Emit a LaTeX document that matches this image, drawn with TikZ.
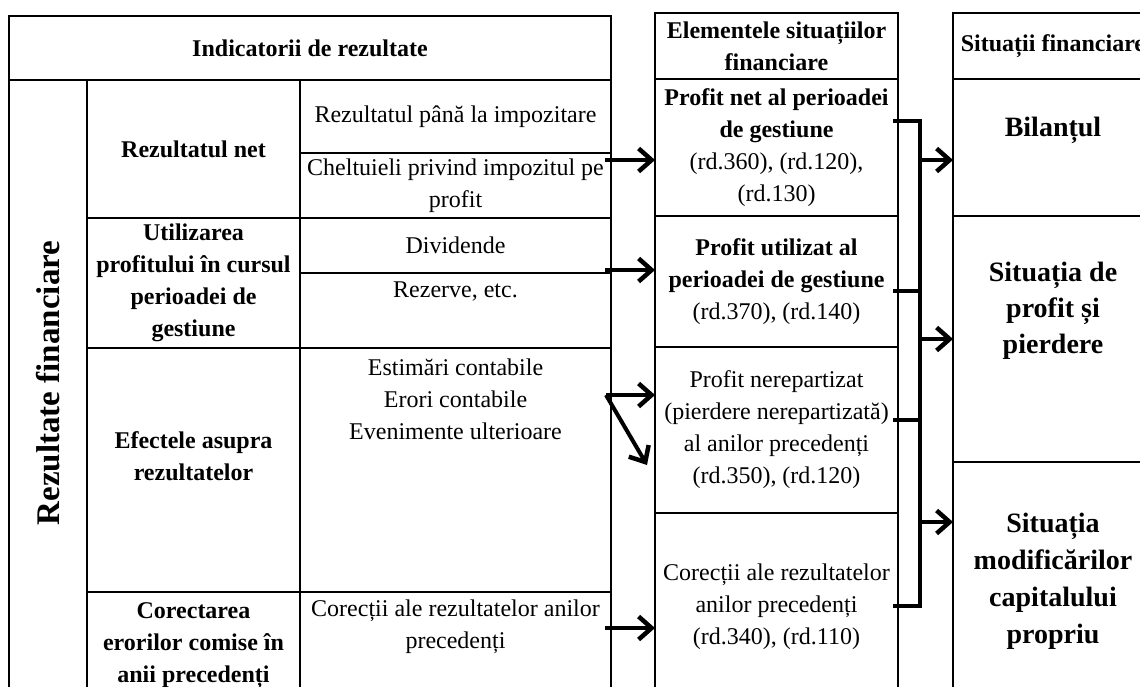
\documentclass[tikz,border=0pt]{standalone}
\usepackage{fontspec}
\setmainfont{Liberation Serif}
\usetikzlibrary{arrows.meta,positioning}
\tikzset{
    %Define style for table cells
    cell/.style={
           draw=black, line width=1.2pt,
           anchor=north west,
           inner sep=0pt, outer sep=0pt,
           align=center,
           font=\fontsize{24}{32}\selectfont},
    bcell/.style={cell, font=\fontsize{24}{32}\selectfont\bfseries},
    gcell/.style={cell, font=\fontsize{28}{37}\selectfont\bfseries},
    %Define style for free texts
    txt/.style={inner sep=0pt, align=center, font=\fontsize{24}{32}\selectfont},
    btxt/.style={txt, font=\fontsize{24}{32}\selectfont\bfseries},
    gtxt/.style={txt, font=\fontsize{28}{36}\selectfont\bfseries},
    % Define arrow style
    pil/.style={line width=4pt, -{Straight Barb[length=13pt,width=23pt,line width=4.5pt]}},
    brace/.style={line width=4pt, line join=miter}
}
\begin{document}
\begin{tikzpicture}[x=1pt,y=-1pt]
\useasboundingbox (0,0) rectangle (1140,686);
\clip (0,0) rectangle (1140,686);

 %left table
\node[bcell, minimum width=602pt, minimum height=64pt] (hdrL) at (9,16) {Indicatorii de rezultate};
\node[cell, minimum width=78pt, minimum height=620pt] (rf) at (9,80) {};
\node[btxt, rotate=90, font=\fontsize{33}{36}\selectfont\bfseries] (rfT) at ([yshift=7pt]rf.center) {Rezultate financiare};
\node[bcell, minimum width=213pt, minimum height=138pt] (rnet) at (87,80) {Rezultatul net};
\node[cell, minimum width=311pt, minimum height=73pt] (rpi) at (300,80) {Rezultatul până la impozitare};
\node[cell, minimum width=311pt, minimum height=65pt] (chelt) at (300,153) {Cheltuieli privind impozitul pe\\profit};
\node[bcell, minimum width=213pt, minimum height=130pt] (util) at (87,218) {Utilizarea\\profitului în cursul\\perioadei de\\gestiune};
\node[cell, minimum width=311pt, minimum height=55pt] (div) at (300,218) {Dividende};
\node[cell, minimum width=311pt, minimum height=75pt] (rez) at (300,273) {};
\node[txt, below=9pt of rez.north] (rezT) {Rezerve, etc.};
\node[cell, minimum width=213pt, minimum height=244pt] (efect) at (87,348) {};
\node[btxt] (efectT) at ([yshift=14pt]efect.center) {Efectele asupra\\rezultatelor};
\node[cell, minimum width=311pt, minimum height=244pt] (estim) at (300,348) {};
\node[txt, below=11pt of estim.north] (estimT) {Estimări contabile\\Erori contabile\\Evenimente ulterioare};
\node[bcell, minimum width=213pt, minimum height=108pt] (corect) at (87,592) {Corectarea\\erorilor comise în\\anii precedenți};
\node[cell, minimum width=311pt, minimum height=108pt] (corrAn) at (300,592) {};
\node[txt, below=8pt of corrAn.north] (corrAnT) {Corecții ale rezultatelor anilor\\precedenți};

 %middle table
\node[bcell, minimum width=243pt, minimum height=66pt] (hdrM) at (655,13) {Elementele situațiilor\\financiare};
\node[cell, minimum width=243pt, minimum height=137pt] (pnet) at (655,79) {\textbf{Profit net al perioadei}\\\textbf{de gestiune}\\(rd.360), (rd.120),\\(rd.130)};
\node[cell, minimum width=243pt, minimum height=131pt] (putil) at (655,216) {\textbf{Profit utilizat al}\\\textbf{perioadei de gestiune}\\(rd.370), (rd.140)};
\node[cell, minimum width=243pt, minimum height=166pt] (pnerep) at (655,347) {Profit nerepartizat\\(pierdere nerepartizată)\\al anilor precedenți\\(rd.350), (rd.120)};
\node[cell, minimum width=243pt, minimum height=187pt] (pcor) at (655,513) {Corecții ale rezultatelor\\anilor precedenți\\(rd.340), (rd.110)};

 %right table
\node[bcell, minimum width=200pt, minimum height=66pt] (hdrR) at (953,13) {Situații financiare};
\node[cell, minimum width=200pt, minimum height=137pt] (bil) at (953,79) {};
\node[gtxt] (bilT) at ([yshift=17pt]bil.center) {Bilanțul};
\node[cell, minimum width=200pt, minimum height=246pt] (sitpp) at (953,216) {};
\node[gtxt] (sitppT) at ([yshift=28pt]sitpp.center) {Situația de\\profit și\\pierdere};
\node[gcell, minimum width=200pt, minimum height=238pt] (sitmod) at (953,462) {Situația\\modificărilor\\capitalului\\propriu};

 %arrows into the middle table
\coordinate (a1) at ([shift={(-6pt,-7pt)}]chelt.north east);
\coordinate (a2) at ([shift={(-6pt,3pt)}]rez.north east);
\coordinate (a3) at ([shift={(-5pt,-47pt)}]estim.north east);
\coordinate (a4) at ([shift={(-6pt,-36pt)}]corrAn.north east);
\draw[pil] (a1) -- (a1 -| pnet.west);
\draw[pil] (a2) -- (a2 -| putil.west);
\draw[pil] (a3) -- (a3 -| pnerep.west);
\draw[pil] (a3) -- ([shift={(-8pt,-35pt)}]pnerep.west);
\draw[pil] (a4) -- (a4 -| pcor.west);

 %bracket
\coordinate (b1) at ([shift={(-5pt,-42pt)}]pnet.north east);
\coordinate (b2) at ([shift={(-5pt,-75pt)}]putil.north east);
\coordinate (b3) at ([shift={(-5pt,-73pt)}]pnerep.north east);
\coordinate (b4) at ([shift={(-5pt,-93pt)}]pcor.north east);
\draw[brace] (b1) -- ++(27,0) coordinate (v) -- (v |- b4) -- (b4);
\draw[brace] (b2) -- (b2 -| v);
\draw[brace] (b3) -- (b3 -| v);

 %arrows into the right table
\coordinate (c1) at ([yshift=-81pt]bil.north west);
\coordinate (c3) at ([yshift=-60pt]sitmod.north west);
\draw[pil] (c1 -| v) -- (c1);
\draw[pil] (sitpp.west -| v) -- (sitpp.west);
\draw[pil] (c3 -| v) -- (c3);

\end{tikzpicture}
\end{document}
